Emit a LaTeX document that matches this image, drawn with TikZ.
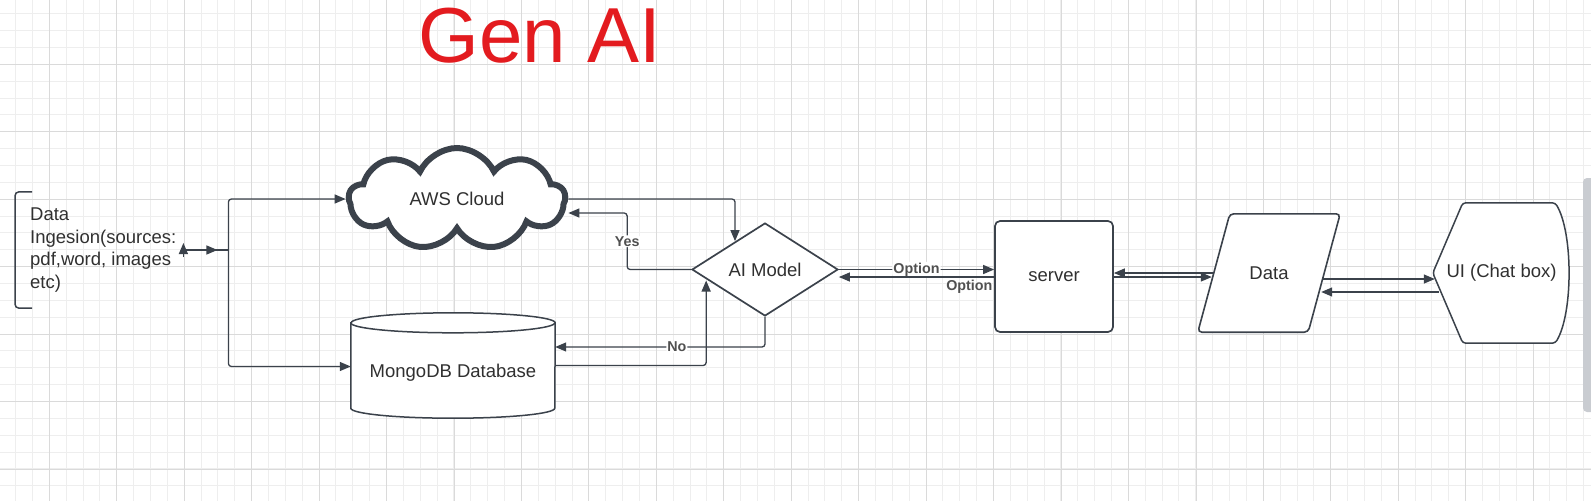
\documentclass[tikz,border=0pt]{standalone}
\usepackage{fontspec}
\setmainfont{Liberation Sans}
\usetikzlibrary{arrows.meta,shapes.geometric,shapes.symbols,backgrounds,calc}
\definecolor{ink}{HTML}{3B424B}
\definecolor{txt}{HTML}{303030}
\definecolor{lbltxt}{HTML}{505050}
\definecolor{gridminor}{HTML}{EEEEEE}
\definecolor{gridmajor}{HTML}{DADADA}
\definecolor{genred}{HTML}{E31B1F}
\definecolor{scroll}{HTML}{C9CCD1}

\begin{document}
\begin{tikzpicture}[x=1pt,y=1pt,>={Triangle[length=11pt,width=9pt]},
  font=\fontsize{18.5}{22.7}\selectfont]

  \tikzstyle{block}=[draw=ink,line width=1.7pt,fill=white,text=txt,inner sep=0pt]
  \tikzstyle{cloudbox}=[block,cloud,cloud puffs=9,cloud puff arc=130,aspect=2,
                        line width=6pt,minimum width=216,minimum height=102]
  \tikzstyle{decision}=[block,diamond,aspect=2,minimum width=146,minimum height=93]
  \tikzstyle{serverbox}=[block,rectangle,rounded corners=5pt,
                         minimum width=118,minimum height=111]
  \tikzstyle{plain}=[inner sep=0pt,text=txt]
  \tikzstyle{link}=[draw=ink,line width=1.3pt,rounded corners=3pt]
  \tikzstyle{lbl}=[fill=white,text=lbltxt,inner sep=1pt,
                   font=\fontsize{14.3}{16}\selectfont\bfseries]
  \tikzstyle{minor}=[gridminor,line width=0.9pt]
  \tikzstyle{major}=[gridmajor,line width=0.9pt]

  \useasboundingbox (0,0) rectangle (1591,-501);

  % grid paper
  \begin{pgfonlayer}{background}
    \fill[white] (0,0) rectangle (1591,-501);
    \foreach \i in {0,...,94}
      \draw[minor] ({15.58+16.86*\i},0) -- ++(0,-501);
    \foreach \j in {0,...,29}
      \draw[minor] (0,{-13.72-16.86*\j}) -- ++(1591,0);
    \foreach \i in {0,...,23}
      \draw[major] ({49.3+67.45*\i},0) -- ++(0,-501);
    \foreach \j in {0,...,6}
      \draw[major] (0,{-64.3-67.45*\j}) -- ++(1591,0);
  \end{pgfonlayer}

  \node [text=genred,font=\fontsize{78}{80}\selectfont] (title) at (540,-36) {Gen AI};

  % blocks
  \node [plain,align=left,anchor=west,minimum height=116] (ingest) at (30,-250)
        {Data\\Ingesion(sources:\\pdf,word, images\\etc)};
  \node [cloudbox]  (aws)    at (457,-199)    {AWS Cloud};
  \node [plain,minimum width=204,minimum height=105,text height=28.5pt,text depth=4pt]
        (db) at (453,-365.5) {MongoDB Database};
  \node [decision]  (ai)     at (765,-269.5)  {AI Model};
  \node [serverbox] (server) at (1054,-276.5) {server};
  \node [plain,minimum width=142,minimum height=118] (data) at (1269,-273) {Data};
  \node [plain,minimum width=137,minimum height=140] (ui) at (1501.5,-273) {UI (Chat box)};

  \draw [ink,line width=1.5pt,rounded corners=4pt]
    ([xshift=2]ingest.north west) -- ([xshift=-15]ingest.north west)
    -- ([xshift=-15]ingest.south west) -- ([xshift=2]ingest.south west);

  \begin{pgfonlayer}{background}
    \filldraw [block,line width=1.5pt] ([yshift=-10]db.north west)
      -- ([yshift=10]db.south west) arc[start angle=180,end angle=360,x radius=102,y radius=10]
      -- ([yshift=-10]db.north east) arc[start angle=0,end angle=180,x radius=102,y radius=10]
      -- cycle;
    \draw [block,fill=none,line width=1.5pt] ([yshift=-10]db.north west)
      arc[start angle=180,end angle=360,x radius=102,y radius=10];
    \filldraw [block,line width=1.6pt,rounded corners=4pt] ([xshift=32]data.north west)
      -- (data.north east) -- ([xshift=-32]data.south east) -- (data.south west) -- cycle;
    \filldraw [block,line width=1.5pt,rounded corners=3pt] (ui.west)
      -- ([xshift=30]ui.north west) -- ([xshift=-15]ui.north east)
      .. controls ([shift={(3,-30)}]ui.north east) and ([shift={(3,30)}]ui.south east)
      .. ([xshift=-15]ui.south east) -- ([xshift=30]ui.south west) -- cycle;
  \end{pgfonlayer}

  % ingestion
  \coordinate (src)   at ([xshift=7]ingest.east);
  \coordinate (split) at ([xshift=52]ingest.east);
  \draw [link,->] ([yshift=-7]src) -- ([yshift=7]src);
  \draw [link] (src) -- (split);
  \draw [link,->] (src) -- ([xshift=34]src);
  \draw [link,->] (split) |- (aws.west);
  \draw [link,->] (split) |- ([yshift=-1]db.west);

  % cloud, database and model
  \draw [link,->] (aws.east) -| ([shift={(-30,-19)}]ai.north);
  \draw [link,->] (ai.west) -- ++(-64,0) |- node[lbl,pos=0.25] {Yes} ([yshift=-14]aws.east);
  \draw [link,->] (ai.south) |- node[lbl,pos=0.71] {No} ([yshift=18.5]db.east);
  \draw [link,->] (db.east) -| ([shift={(15,-11)}]ai.west);

  % model and server
  \draw [link,->] (ai.east) -- node[lbl] {Option} (ai.east -| server.west);
  \draw [link,->] ($(ai.east -| server.west)+(0,-7.5)$)
    -- node[lbl,fill=none,pos=0.16,below=1pt] {Option} ($(ai.east)+(0,-7.5)$);

  % server, data and ui
  \draw [link,->] ($(data.west)+(16,0)$) -- (data.west -| server.east);
  \draw [link,->] ($(data.west -| server.east)+(0,-4)$) -- ($(data.west)+(14,-4)$);
  \draw [link,->] ($(data.east)+(-17,-6)$) -- ($(ui.west)+(2,-6)$);
  \draw [link,->] ($(ui.west)+(6,-19)$) -- ($(data.east)+(-19,-19)$);

  \fill [scroll,rounded corners=4pt] (1583,-178) rectangle (1597,-412);
\end{tikzpicture}
\end{document}
